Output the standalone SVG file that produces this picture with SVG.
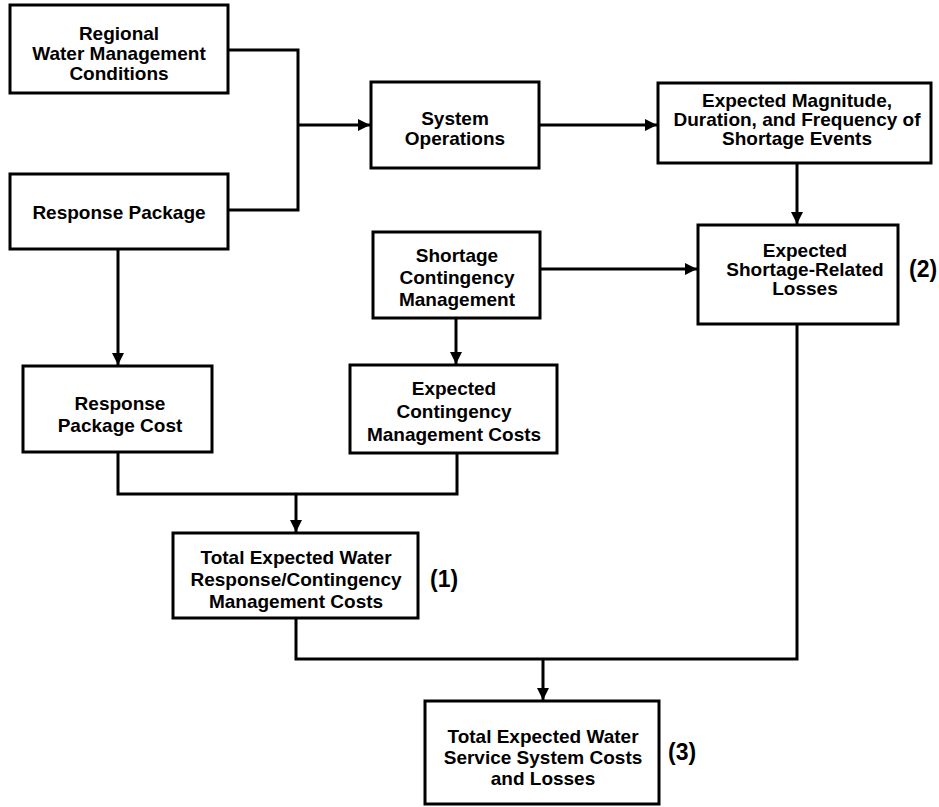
<svg xmlns="http://www.w3.org/2000/svg" width="939" height="807" viewBox="0 0 939 807">
<style>
.box{fill:#fff;stroke:#000;stroke-width:3}
.t{font-family:"Liberation Sans",Arial,sans-serif;font-weight:bold;font-size:19px;text-anchor:middle;fill:#000}
.lbl{font-family:"Liberation Sans",Arial,sans-serif;font-weight:bold;font-size:23px;fill:#000}
.c{fill:none;stroke:#000;stroke-width:3}
</style>
<defs>
<marker id="ah" viewBox="0 0 10 10" refX="10" refY="5" markerWidth="4" markerHeight="4" orient="auto" markerUnits="strokeWidth">
<path d="M0,0 L10,5 L0,10 z" fill="#000"/>
</marker>
</defs>
<rect width="939" height="807" fill="#fff"/>
<g id="connectors">
<path class="c" d="M228,50 H298 V210 H228"/>
<path class="c" d="M298,125 H370" marker-end="url(#ah)"/>
<path class="c" d="M539,125 H657" marker-end="url(#ah)"/>
<path class="c" d="M797,163 V224" marker-end="url(#ah)"/>
<path class="c" d="M540,269 H697" marker-end="url(#ah)"/>
<path class="c" d="M118,249 V365" marker-end="url(#ah)"/>
<path class="c" d="M456,318 V364" marker-end="url(#ah)"/>
<path class="c" d="M118,452 V494 H457 V453"/>
<path class="c" d="M296,494 V532" marker-end="url(#ah)"/>
<path class="c" d="M296,618 V659 H797 V324"/>
<path class="c" d="M543,659 V700" marker-end="url(#ah)"/>
</g>
<g id="regional">
<rect class="box" x="10" y="5" width="218" height="88"/>
<text class="t" x="119" y="40">Regional</text>
<text class="t" x="119" y="60">Water Management</text>
<text class="t" x="119" y="80">Conditions</text>
</g>
<g id="response-package">
<rect class="box" x="10" y="174" width="218" height="75"/>
<text class="t" x="119" y="219">Response Package</text>
</g>
<g id="system-operations">
<rect class="box" x="371" y="82" width="168" height="86"/>
<text class="t" x="455" y="125">System</text>
<text class="t" x="455" y="145">Operations</text>
</g>
<g id="expected-magnitude">
<rect class="box" x="658" y="83" width="273" height="80"/>
<text class="t" x="797" y="107">Expected Magnitude,</text>
<text class="t" x="797" y="126">Duration, and Frequency of</text>
<text class="t" x="797" y="145">Shortage Events</text>
</g>
<g id="shortage-contingency">
<rect class="box" x="373" y="232" width="167" height="86"/>
<text class="t" x="457" y="262">Shortage</text>
<text class="t" x="457" y="284">Contingency</text>
<text class="t" x="457" y="306">Management</text>
</g>
<g id="shortage-losses">
<rect class="box" x="698" y="225" width="200" height="99"/>
<text class="t" x="805" y="257">Expected</text>
<text class="t" x="805" y="276">Shortage-Related</text>
<text class="t" x="805" y="295">Losses</text>
<text class="lbl" x="909" y="277">(2)</text>
</g>
<g id="response-package-cost">
<rect class="box" x="23" y="366" width="189" height="86"/>
<text class="t" x="120" y="410">Response</text>
<text class="t" x="120" y="432">Package Cost</text>
</g>
<g id="contingency-costs">
<rect class="box" x="350" y="365" width="207" height="88"/>
<text class="t" x="454" y="395">Expected</text>
<text class="t" x="454" y="418">Contingency</text>
<text class="t" x="454" y="441">Management Costs</text>
</g>
<g id="total-response">
<rect class="box" x="173" y="533" width="245" height="85"/>
<text class="t" x="296" y="564">Total Expected Water</text>
<text class="t" x="296" y="586">Response/Contingency</text>
<text class="t" x="296" y="608">Management Costs</text>
<text class="lbl" x="430" y="587">(1)</text>
</g>
<g id="total-service">
<rect class="box" x="425" y="701" width="234" height="103"/>
<text class="t" x="543" y="743">Total Expected Water</text>
<text class="t" x="543" y="764">Service System Costs</text>
<text class="t" x="543" y="785">and Losses</text>
<text class="lbl" x="668" y="760">(3)</text>
</g>
</svg>
